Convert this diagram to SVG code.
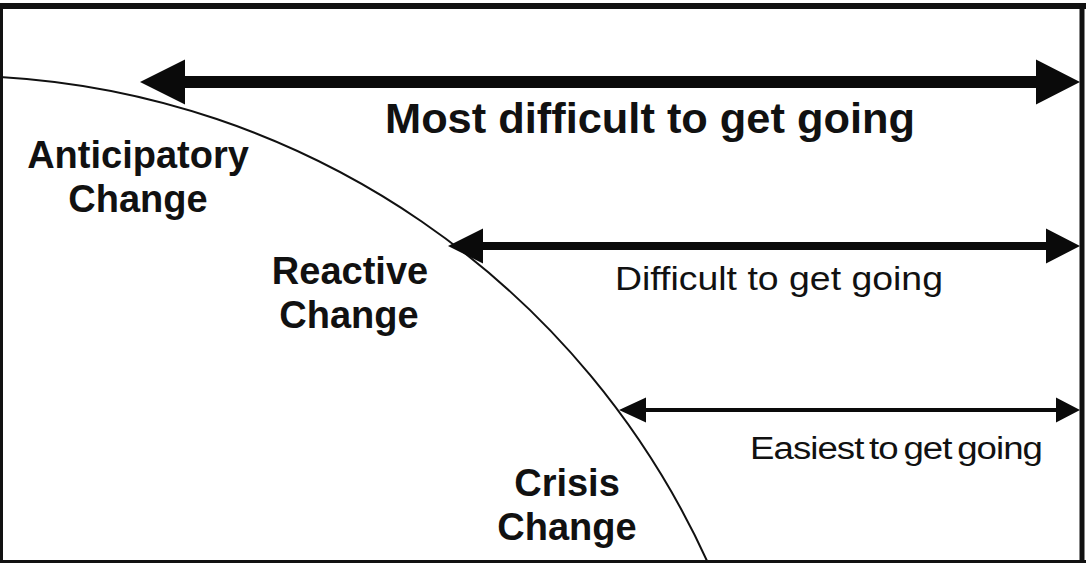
<svg xmlns="http://www.w3.org/2000/svg" width="1086" height="563" viewBox="0 0 1086 563">
<style>
.bold{font-family:"Liberation Sans",Arial,sans-serif;font-weight:bold;font-size:38px;fill:#111;text-anchor:middle}
.reg{font-family:"Liberation Sans",Arial,sans-serif;font-size:30px;fill:#111}
.arrow{fill:#0a0a0a}
.frame{stroke:#111;fill:none}
</style>
<rect x="0" y="0" width="1086" height="563" fill="#fff"/>
<g id="frame">
<line class="frame" x1="0" y1="6" x2="1086" y2="6" stroke-width="6"/>
<line class="frame" x1="1.5" y1="3" x2="1.5" y2="563" stroke-width="3"/>
<line class="frame" x1="1082" y1="3" x2="1082" y2="563" stroke-width="5"/>
<line class="frame" x1="0" y1="561.5" x2="1086" y2="561.5" stroke-width="3"/>
</g>
<g id="curve">
<path d="M 0 77 A 831 831 0 0 1 708 563" fill="none" stroke="#111" stroke-width="2"/>
</g>
<g id="connectors">
<polygon class="arrow" points="140,82 185,59.5 185,76 1036,76 1036,59.5 1080,82 1036,104.5 1036,88 185,88 185,104.5"/>
<polygon class="arrow" points="448,246 483,228.5 483,242 1046,242 1046,228.5 1080,246 1046,263.5 1046,250 483,250 483,263.5"/>
<polygon class="arrow" points="619,410 646,397.5 646,408 1056,408 1056,397.5 1080,410 1056,422.5 1056,412 646,412 646,422.5"/>
</g>
<g id="label-most">
<text class="bold" x="650" y="133" style="font-size:43px" textLength="530" lengthAdjust="spacingAndGlyphs">Most difficult to get going</text>
</g>
<g id="label-difficult">
<text class="reg" x="615" y="290" textLength="328" lengthAdjust="spacingAndGlyphs" style="text-anchor:start;font-size:33px">Difficult to get going</text>
</g>
<g id="label-easiest">
<text class="reg" x="750" y="459" textLength="292" lengthAdjust="spacingAndGlyphs" letter-spacing="-0.8" word-spacing="-3" style="font-size:31px">Easiest to get going</text>
</g>
<g id="node-anticipatory">
<text class="bold" x="138" y="168">Anticipatory</text>
<text class="bold" x="138" y="212">Change</text>
</g>
<g id="node-reactive">
<text class="bold" x="350" y="284">Reactive</text>
<text class="bold" x="349" y="328">Change</text>
</g>
<g id="node-crisis">
<text class="bold" x="567" y="496">Crisis</text>
<text class="bold" x="567" y="540">Change</text>
</g>
</svg>
